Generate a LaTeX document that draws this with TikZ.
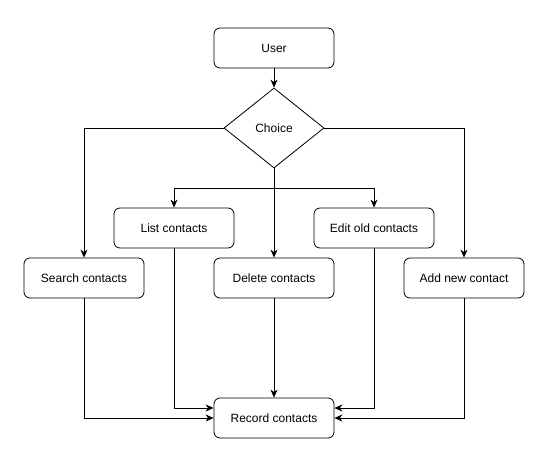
\documentclass[tikz,border=0pt]{standalone}
\usepackage{fontspec}
\setmainfont{Liberation Sans}
\usetikzlibrary{shapes.geometric,arrows.meta}
\begin{document}
\begin{tikzpicture}[x=1pt,y=-1pt,
  box/.style={draw, rounded corners=6pt, minimum width=120pt, minimum height=40pt, inner sep=0pt, line width=0.8pt, font=\fontsize{12}{14}\selectfont},
  dia/.style={draw, diamond, aspect=1.25, minimum width=100pt, minimum height=80pt, inner sep=0pt, line width=0.8pt, font=\fontsize{12}{14}\selectfont},
  conn/.style={draw, line width=0.8pt, -{Stealth[length=8pt,width=7pt,inset=2.5pt]}}]
\useasboundingbox (0,0) rectangle (548,461);
\node[box] (user) at (274,48) {User};
\node[dia] (choice) at (274,128) {Choice};
\node[box] (list) at (174,228) {List contacts};
\node[box] (edit) at (374,228) {Edit old contacts};
\node[box] (search) at (84,278) {Search contacts};
\node[box] (delete) at (274,278) {Delete contacts};
\node[box] (add) at (464,278) {Add new contact};
\node[box] (record) at (274,418) {Record contacts};
\coordinate (split) at (274,188);
\path[conn] (user) -- (choice);
\path[conn] (choice.west) -| (search.north);
\path[conn] (choice.east) -| (add.north);
\path[conn] (choice.south) -- (delete.north);
\path[conn] (split) -| (list.north);
\path[conn] (split) -| (edit.north);
\path[conn] (search.south) |- (record.west);
\path[conn] (list.south) |- ([yshift=10pt]record.west);
\path[conn] (delete.south) -- (record.north);
\path[conn] (edit.south) |- ([yshift=10pt]record.east);
\path[conn] (add.south) |- (record.east);
\end{tikzpicture}
\end{document}
